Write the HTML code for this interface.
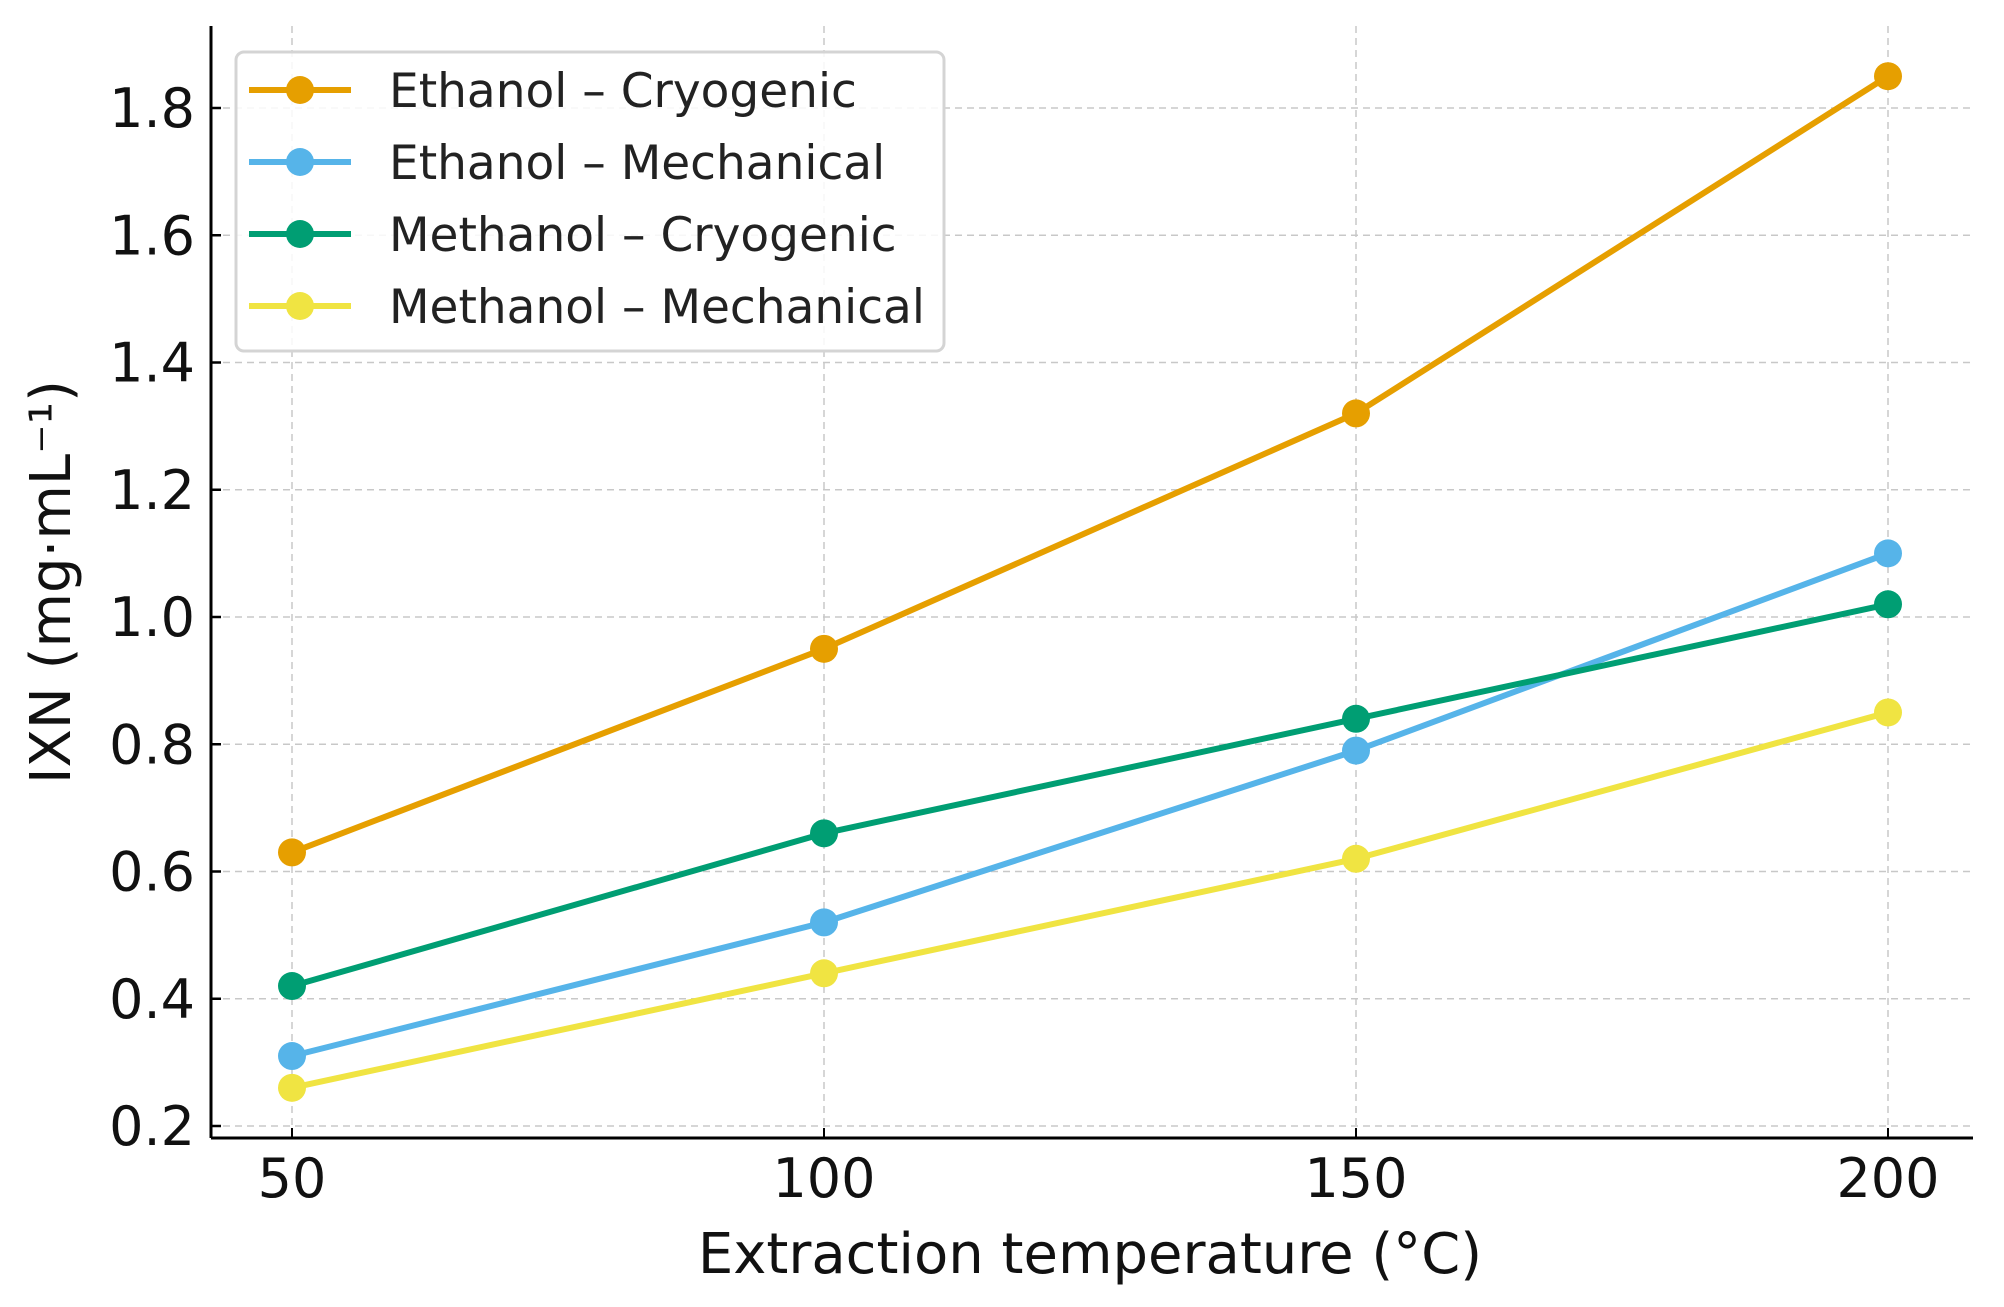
<!DOCTYPE html>
<html><head><meta charset="utf-8"><style>
html,body{margin:0;padding:0;background:#fff;}
svg{display:block;font-family:"DejaVu Sans","Liberation Sans",sans-serif;}
</style></head><body>
<svg id="chart" width="2004" height="1307" viewBox="0 0 2004 1307" xmlns="http://www.w3.org/2000/svg">
<g id="grid"></g>
<g id="axes"></g>
<g id="series"></g>
<g id="legend"></g>
</svg>
<script>
const categories = [50, 100, 150, 200];
const yTicks = [0.2, 0.4, 0.6, 0.8, 1.0, 1.2, 1.4, 1.6, 1.8];
const yTickLabels = ["0.2","0.4","0.6","0.8","1.0","1.2","1.4","1.6","1.8"];
const seriesNames = ["Ethanol – Cryogenic","Ethanol – Mechanical","Methanol – Cryogenic","Methanol – Mechanical"];
const ethanolCryo = [0.63, 0.95, 1.32, 1.85];
const ethanolMech = [0.31, 0.52, 0.79, 1.10];
const methanolCryo = [0.42, 0.66, 0.84, 1.02];
const methanolMech = [0.26, 0.44, 0.62, 0.85];
const colors = ["#E69F00","#56B4E9","#009E73","#F0E442"];
const allSeries = [ethanolCryo, ethanolMech, methanolCryo, methanolMech];

const NS = "http://www.w3.org/2000/svg";
function mk(tag, attrs, parent){const e=document.createElementNS(NS,tag);for(const k in attrs)e.setAttribute(k,attrs[k]);parent.appendChild(e);return e;}
const L=211, R=1973, T=26, B=1138;
function xs(v){return 292 + (v-50)*(1888-292)/150;}
function ys(v){return 1126 - (v-0.2)*(1126-108)/1.6;}

const grid=document.getElementById('grid'), axes=document.getElementById('axes'), ser=document.getElementById('series'), leg=document.getElementById('legend');

categories.forEach(c=>{
  const g=mk('line',{x1:xs(c),x2:xs(c),y1:T,y2:B,stroke:'#c8c8c8','stroke-width':1.5,'stroke-dasharray':'7,5'},grid);
  
  
  const t=mk('line',{x1:xs(c),x2:xs(c),y1:B,y2:B-10,stroke:'#000','stroke-width':2},axes);
  
  
  const lb=mk('text',{x:xs(c),y:1197,'text-anchor':'middle','font-size':54,fill:'#111'},axes);
  lb.textContent=c;
  
  
});
yTicks.forEach((v,i)=>{
  const g=mk('line',{x1:L,x2:R,y1:ys(v),y2:ys(v),stroke:'#c8c8c8','stroke-width':1.5,'stroke-dasharray':'7,5'},grid);
  
  
  const t=mk('line',{x1:L,x2:L+10,y1:ys(v),y2:ys(v),stroke:'#000','stroke-width':2.5},axes);
  
  
  const lb=mk('text',{x:195,y:ys(v)+19,'text-anchor':'end','font-size':54,fill:'#111'},axes);
  lb.textContent=yTickLabels[i];
  
  
});
const ya=mk('line',{x1:L,x2:L,y1:T,y2:B,stroke:'#000','stroke-width':3},axes);


const xa=mk('line',{x1:L,x2:R,y1:B,y2:B,stroke:'#000','stroke-width':3},axes);


const xt=mk('text',{x:1090,y:1273,'text-anchor':'middle','font-size':56,fill:'#111'},axes);
xt.textContent='Extraction temperature (°C)';


const yt=mk('text',{x:0,y:0,'text-anchor':'middle','font-size':56,fill:'#111',transform:'translate(70,582) rotate(-90)'},axes);
yt.textContent='IXN (mg·mL⁻¹)';



allSeries.forEach((vals,si)=>{
  const pts=vals.map((v,i)=>xs(categories[i])+','+ys(v)).join(' ');
  const pl=mk('polyline',{points:pts,fill:'none',stroke:colors[si],'stroke-width':6,'stroke-linejoin':'round'},ser);
  
  
  vals.forEach((v,i)=>{
    const c=mk('circle',{cx:xs(categories[i]),cy:ys(v),r:14,fill:colors[si]},ser);
    
    
  });
});

const box=mk('rect',{x:236,y:52,width:708,height:299,rx:8,fill:'#fff','fill-opacity':0.85,stroke:'#d4d4d4','stroke-width':3},leg);


seriesNames.forEach((n,i)=>{
  const y=90+i*72;
  const ln=mk('line',{x1:249,x2:351,y1:y,y2:y,stroke:colors[i],'stroke-width':6},leg);
  
  
  const c=mk('circle',{cx:300,cy:y,r:14,fill:colors[i]},leg);
  
  
  const t=mk('text',{x:389,y:y+17,'font-size':47,fill:'#222'},leg);
  t.textContent=n;
  
  
});
</script>
</body></html>
